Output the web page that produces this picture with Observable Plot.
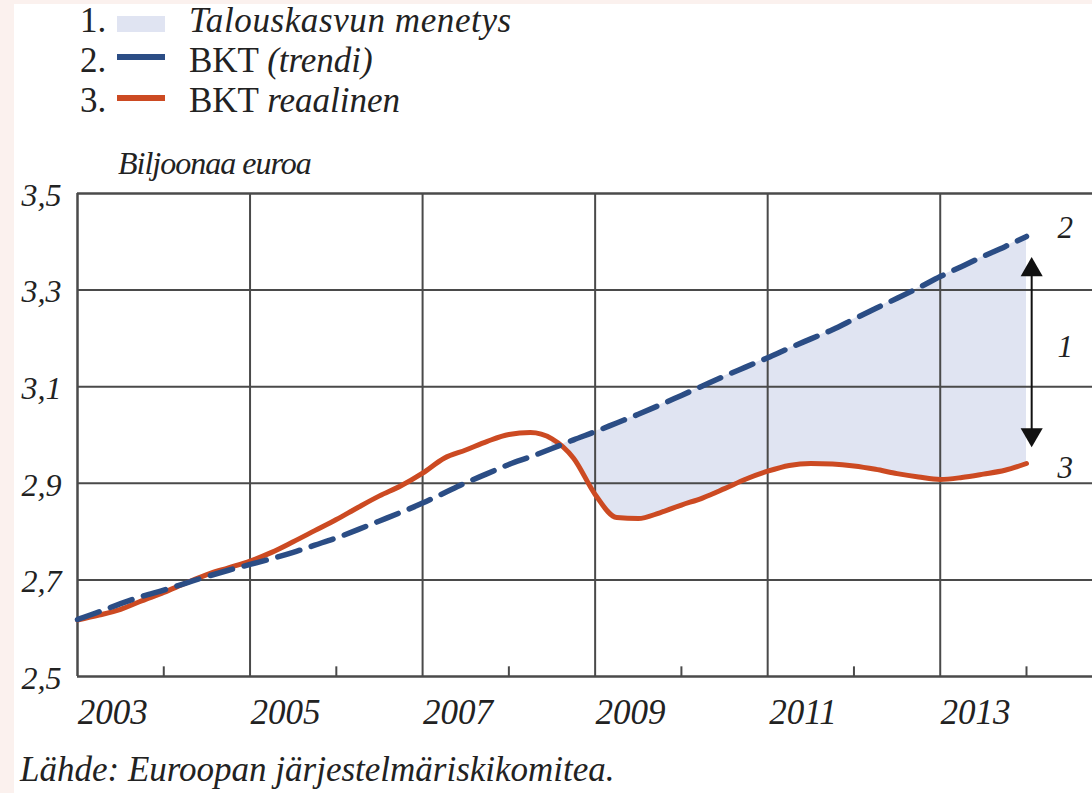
<!DOCTYPE html>
<html><head><meta charset="utf-8">
<script src="https://cdn.jsdelivr.net/npm/d3@7"></script>
<script src="https://cdn.jsdelivr.net/npm/@observablehq/plot@0.6"></script>
<style>
html,body{margin:0;padding:0;width:1092px;height:793px;overflow:hidden;background:#fbf1ee;}
#panel{position:absolute;left:14px;top:4px;right:0;bottom:0;background:#fff;}
.t{position:absolute;font-family:"Liberation Serif","Times New Roman","DejaVu Serif",serif;color:#222;white-space:nowrap;line-height:1;}
.i{font-style:italic;}
.sw{position:absolute;}
#chart{position:absolute;left:0;top:150px;}
</style></head>
<body>
<div id="panel"></div>
<div class="t" style="left:80px;top:3px;font-size:35px;">1.</div>
<div class="sw" style="left:117px;top:16px;width:48px;height:16px;background:#e0e4f2;"></div>
<div class="t i" style="left:189px;top:3px;font-size:35px;letter-spacing:0.6px;">Talouskasvun menetys</div>
<div class="t" style="left:80px;top:43px;font-size:35px;">2.</div>
<div class="sw" style="left:117px;top:54px;width:48px;height:6px;background:#2b4d85;"></div>
<div class="t" style="left:189px;top:43px;font-size:35px;">BKT <span class="i">(trendi)</span></div>
<div class="t" style="left:80px;top:83px;font-size:35px;">3.</div>
<div class="sw" style="left:117px;top:95px;width:48px;height:6px;background:#cc4a22;"></div>
<div class="t" style="left:189px;top:83px;font-size:35px;">BKT <span class="i">reaalinen</span></div>
<div class="t i" style="left:118px;top:147px;font-size:32px;letter-spacing:-1px;">Biljoonaa euroa</div>
<div id="chart"></div>
<div class="t i" style="left:20px;top:752px;font-size:35px;">Lähde: Euroopan järjestelmäriskikomitea.</div>
<script>
// quarterly positions (year fraction)
const quarters = [2003,2003.25,2003.5,2003.75,2004,2004.25,2004.5,2004.75,2005,2005.25,2005.5,2005.75,
  2006,2006.25,2006.5,2006.75,2007,2007.25,2007.5,2007.75,2008,2008.25,2008.5,2008.75,
  2009,2009.25,2009.5,2009.75,2010,2010.25,2010.5,2010.75,2011,2011.25,2011.5,2011.75,
  2012,2012.25,2012.5,2012.75,2013,2013.25,2013.5,2013.75,2014];
// BKT reaalinen (biljoonaa euroa)
const realGDP = [2.617,2.627,2.639,2.657,2.674,2.693,2.711,2.725,2.739,2.757,2.779,2.802,
  2.825,2.850,2.874,2.895,2.921,2.952,2.969,2.987,3.001,3.005,2.992,2.952,
  2.877,2.829,2.827,2.839,2.855,2.870,2.889,2.909,2.925,2.937,2.941,2.940,
  2.936,2.929,2.920,2.913,2.908,2.912,2.919,2.927,2.941];
// BKT (trendi)
const trendGDP = [2.618,2.634,2.651,2.666,2.679,2.693,2.707,2.720,2.732,2.744,2.757,2.772,
  2.787,2.804,2.822,2.840,2.859,2.880,2.901,2.920,2.939,2.955,2.972,2.990,
  3.007,3.025,3.043,3.062,3.082,3.102,3.122,3.141,3.160,3.180,3.199,3.218,
  3.240,3.262,3.283,3.305,3.328,3.349,3.370,3.390,3.411];
const yTicks = [2.5,2.7,2.9,3.1,3.3,3.5];
const gridYears = [2003,2005,2007,2009,2011,2013];
const minorYears = [2004,2006,2008,2010,2012,2014];
const xLabels = ["2003","2005","2007","2009","2011","2013"];
const lossStart = 2008.5;
const arrowYear = 2014.06;
const arrowTop = 3.342, arrowBottom = 3.001;
const seriesLabels = [{t:"2", v:3.428},{t:"1", v:3.183},{t:"3", v:2.931}];
const labelYear = 2014.45;

const data = quarters.map((q,i)=>({year:q, real:realGDP[i], trend:trendGDP[i]}));
const gridColor = "#4a4a4a";
const serif = "Liberation Serif, Times New Roman, DejaVu Serif, serif";

const chart = Plot.plot({
  width: 1092, height: 600,
  marginLeft: 77, marginRight: 0, marginTop: 43, marginBottom: 74,
  x: {domain:[2003, 2014.765], axis:null},
  y: {domain:[2.5, 3.5], axis:null},
  style: {fontFamily:serif, fontStyle:"italic", color:"#222", background:"transparent", overflow:"visible"},
  marks: [
    Plot.areaY(data.filter(d=>d.year>=lossStart), {x:"year", y1:"real", y2:"trend", fill:"#e0e4f2", curve:"monotone-x"}),
    Plot.ruleY(yTicks.filter(v=>v>2.5 && v<3.5), {stroke:gridColor, strokeWidth:2}),
    Plot.ruleY([2.5,3.5], {stroke:gridColor, strokeWidth:2.5}),
    Plot.ruleX(gridYears.slice(1), {stroke:gridColor, strokeWidth:2}),
    Plot.ruleX([gridYears[0]], {stroke:gridColor, strokeWidth:2.5}),
    Plot.ruleX(minorYears, {y1:2.5, y2:2.52, stroke:gridColor, strokeWidth:2}),
    Plot.lineY(data, {x:"year", y:"real", stroke:"#cc4a22", strokeWidth:5, curve:"monotone-x"}),
    Plot.lineY(data, {x:"year", y:"trend", stroke:"#2b4d85", strokeWidth:5.5, strokeDasharray:"23,12", curve:"monotone-x"}),
    Plot.ruleX([arrowYear], {y1:arrowTop, y2:arrowBottom, stroke:"#111", strokeWidth:2}),
    Plot.dot([arrowTop], {x:()=>arrowYear, y:d=>d, symbol:"triangle", r:8.2, fill:"#111", stroke:"none"}),
    Plot.dot([arrowBottom], {x:()=>arrowYear, y:d=>d, symbol:"triangle", r:8.2, fill:"#111", stroke:"none", rotate:180}),
    Plot.text(seriesLabels, {x:()=>labelYear, y:"v", text:"t", fontSize:31, fill:"#222"}),
    Plot.text(yTicks, {y:d=>d, text:d=>d.toFixed(1).replace(".", ","), frameAnchor:"left", textAnchor:"end", lineAnchor:"middle", dx:-16, dy:2, fontSize:32, fill:"#222"}),
    Plot.text(xLabels, {x:d=>+d+0.41, text:d=>d, frameAnchor:"bottom", lineAnchor:"middle", dy:36, fontSize:35, fill:"#222"})
  ]
});
document.getElementById("chart").appendChild(chart);
</script>
</body></html>
